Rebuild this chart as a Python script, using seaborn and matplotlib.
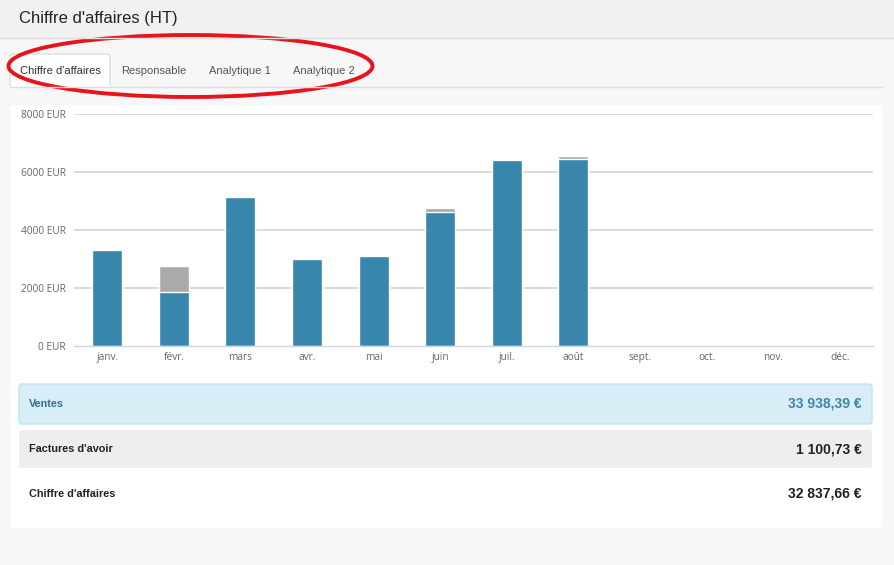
import matplotlib
matplotlib.use("Agg")
import matplotlib.pyplot as plt
import matplotlib.patches as mpatches
import seaborn as sns
import pandas as pd

months = ["janv.", "févr.", "mars", "avr.", "mai", "juin", "juil.", "août",
          "sept.", "oct.", "nov.", "déc."]
ventes = [3320, 1875, 5150, 3000, 3105, 4635, 6400, 6460, 0, 0, 0, 0]
avoirs = [0, 885, 0, 0, 0, 115, 0, 100, 0, 0, 0, 0]
y_ticks = [0, 2000, 4000, 6000, 8000]
tabs = ["Chiffre d'affaires", "Responsable", "Analytique 1", "Analytique 2"]
summary_labels = ["Ventes", "Factures d'avoir", "Chiffre d'affaires"]
summary_values = ["33 938,39 €", "1 100,73 €", "32 837,66 €"]
title = "Chiffre d'affaires (HT)"

df = pd.DataFrame({"mois": months, "ventes": ventes, "avoirs": avoirs})
df["total"] = df["ventes"] + df["avoirs"]

sns.set_theme(style="white")
plt.rcParams["font.family"] = ["Liberation Sans", "DejaVu Sans"]

W, H = 894, 565
fig = plt.figure(figsize=(W / 100, H / 100), dpi=100)
fig.patch.set_facecolor("#f7f7f7")

# overlay axes in pixel coords (top origin)
bg = fig.add_axes([0, 0, 1, 1], zorder=0)
bg.set_xlim(0, W)
bg.set_ylim(H, 0)
bg.axis("off")

# header
bg.add_patch(mpatches.Rectangle((0, 0), W, 38, facecolor="#f1f1f1", edgecolor="none"))
bg.plot([0, W], [38, 38], color="#dddddd", lw=1)
bg.text(19, 19, title, fontsize=12, color="#222222", va="center", ha="left")

# tabs
bg.plot([10, 882], [86.5, 86.5], color="#dddddd", lw=1)
bg.add_patch(mpatches.FancyBboxPatch((10, 54), 100, 33, boxstyle="round,pad=0,rounding_size=3",
                                     facecolor="white", edgecolor="#dddddd", lw=1))
bg.add_patch(mpatches.Rectangle((10.5, 85), 99, 3, facecolor="white", edgecolor="none"))
tab_x = [60, 154, 240, 324]
for i, (t, x) in enumerate(zip(tabs, tab_x)):
    bg.text(x, 70.5, t, fontsize=8, color="#333333" if i == 0 else "#555555",
            ha="center", va="center")
bg.add_patch(mpatches.Ellipse((190.5, 66), 364, 62, facecolor="none", edgecolor="#e8141c", lw=2.8))

# white panel
bg.add_patch(mpatches.FancyBboxPatch((10, 105), 872, 423, boxstyle="round,pad=0,rounding_size=3",
                                     facecolor="white", edgecolor="none"))

# summary rows
bg.add_patch(mpatches.FancyBboxPatch((19, 384), 853, 40, boxstyle="round,pad=0,rounding_size=3",
                                     facecolor="#d9edf7", edgecolor="#bce8f1", lw=1))
bg.add_patch(mpatches.FancyBboxPatch((19, 430), 853, 38, boxstyle="round,pad=0,rounding_size=3",
                                     facecolor="#eeeeee", edgecolor="none"))
rows_y = [404, 449, 494]
lab_col = ["#31708f", "#222222", "#222222"]
val_col = ["#3a87ad", "#222222", "#222222"]
for lab, val, y, lc, vc in zip(summary_labels, summary_values, rows_y, lab_col, val_col):
    bg.text(29, y, lab, fontsize=7.8, fontweight="bold", color=lc, ha="left", va="center")
    bg.text(862, y, val, fontsize=10, fontweight="bold", color=vc, ha="right", va="center")

# chart axes
left, right, top, bottom = 74, 873, 114, 346
ax = fig.add_axes([left / W, (H - bottom) / H, (right - left) / W, (bottom - top) / H], zorder=1)
ax.set_facecolor("none")

sns.barplot(data=df, x="mois", y="total", order=months, color="#aaaaaa", width=0.45,
            edgecolor="white", linewidth=1, ax=ax, zorder=3)
sns.barplot(data=df, x="mois", y="ventes", order=months, color="#3986ac", width=0.45,
            edgecolor="white", linewidth=1, ax=ax, zorder=4, saturation=1)
for p in ax.patches[:12]:
    p.set_facecolor("#aaaaaa")

ax.set_xlim(-0.5, 11.5)
ax.set_ylim(0, 8000)
ax.set_yticks(y_ticks)
ax.set_yticklabels([f"{v} EUR" for v in y_ticks], fontsize=7.3, color="#666666",
                   family=["Open Sans", "DejaVu Sans"])
for v in y_ticks[1:]:
    ax.axhline(v, color="#d8d8d8", lw=1.3, zorder=1)
ax.set_xlabel("")
ax.set_ylabel("")
ax.tick_params(axis="y", length=0, pad=6)
ax.tick_params(axis="x", which="major", length=0, pad=4)
ax.set_xticks(range(12))
ax.set_xticklabels(months, fontsize=7.3, color="#666666", family=["Open Sans", "DejaVu Sans"])
ax.set_xticks([i - 0.5 for i in range(13)], minor=True)
ax.tick_params(axis="x", which="minor", length=5, width=1, color="#ccd6eb", direction="out")
for s in ["top", "right", "left"]:
    ax.spines[s].set_visible(False)
ax.spines["bottom"].set_color("#ccd6eb")
ax.spines["bottom"].set_linewidth(1)
ax.spines["bottom"].set_zorder(5)

fig.savefig("out.png", dpi=100, facecolor=fig.get_facecolor())
